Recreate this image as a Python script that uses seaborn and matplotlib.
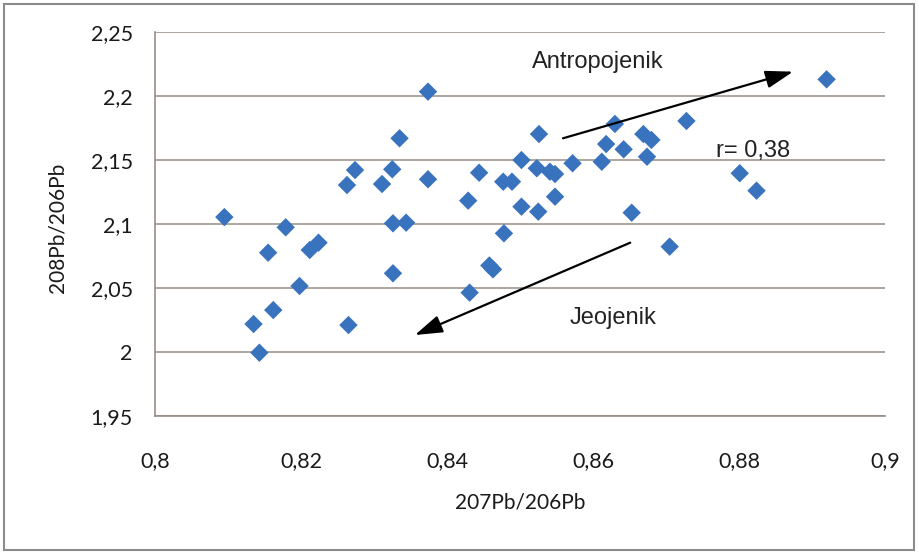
import matplotlib
matplotlib.use("Agg")
import matplotlib.pyplot as plt
import seaborn as sns
import pandas as pd
from matplotlib.patches import Rectangle

# ---- data ----
pb207_206 = [0.8095, 0.8179, 0.8155, 0.8212, 0.8224, 0.8198, 0.8162, 0.8135, 0.8143,
             0.8265, 0.8326, 0.8344, 0.8326, 0.8374, 0.8335, 0.8274, 0.8263, 0.8325,
             0.8311, 0.8374, 0.8444, 0.8429, 0.8477, 0.8489, 0.8502, 0.8502, 0.8478,
             0.8458, 0.8463, 0.8431, 0.8526, 0.8630, 0.8728, 0.8669, 0.8680, 0.8618,
             0.8642, 0.8674, 0.8612, 0.8572, 0.8523, 0.8541, 0.8548, 0.8548, 0.8525,
             0.8653, 0.8705, 0.8920, 0.8801, 0.8824]
pb208_206 = [2.1053, 2.0973, 2.0775, 2.0796, 2.0853, 2.0515, 2.0327, 2.0218, 1.9994,
             2.0210, 2.1004, 2.1009, 2.0614, 2.2032, 2.1668, 2.1420, 2.1303, 2.1426,
             2.1311, 2.1348, 2.1399, 2.1181, 2.1329, 2.1329, 2.1498, 2.1134, 2.0926,
             2.0675, 2.0645, 2.0463, 2.1701, 2.1780, 2.1803, 2.1701, 2.1655, 2.1623,
             2.1582, 2.1524, 2.1485, 2.1473, 2.1434, 2.1407, 2.1389, 2.1212, 2.1095,
             2.1087, 2.0822, 2.2128, 2.1395, 2.1259]
x_ticks = [0.80, 0.82, 0.84, 0.86, 0.88, 0.90]
x_tick_labels = ["0,8", "0,82", "0,84", "0,86", "0,88", "0,9"]
y_ticks = [1.95, 2.00, 2.05, 2.10, 2.15, 2.20, 2.25]
y_tick_labels = ["1,95", "2", "2,05", "2,1", "2,15", "2,2", "2,25"]
x_label = "207Pb/206Pb"
y_label = "208Pb/206Pb"
r_text = "r= 0,38"
anthro_text = "Antropojenik"
geo_text = "Jeojenik"

df = pd.DataFrame({"x": pb207_206, "y": pb208_206})

sns.set_theme(style="white")
plt.rcParams["font.family"] = ["Lato", "DejaVu Sans"]

fig = plt.figure(figsize=(9.19, 5.54), dpi=100)
ax = fig.add_axes([155 / 919, 1 - 416 / 554, 730 / 919, 384.3 / 554])

grid_c = "#978d86"
for yv in y_ticks:
    ax.axhline(yv, color=grid_c, lw=1.1, zorder=1)

sns.scatterplot(data=df, x="x", y="y", marker="D", s=88, color="#3a73bd",
                edgecolor="none", ax=ax, zorder=3)

ax.set_xlim(0.8, 0.9)
ax.set_ylim(1.95, 2.25)
ax.set_xticks(x_ticks)
ax.set_xticklabels(x_tick_labels)
ax.set_yticks(y_ticks)
ax.set_yticklabels(y_tick_labels)
ax.tick_params(axis="x", length=0, pad=25, labelsize=15.5, labelcolor="#1a1a1a")
ax.tick_params(axis="y", length=0, pad=16, labelsize=15.5, labelcolor="#1a1a1a")

for side in ["top", "right"]:
    ax.spines[side].set_visible(False)
for side in ["left", "bottom"]:
    ax.spines[side].set_color(grid_c)
    ax.spines[side].set_linewidth(1.2)

ax.set_xlabel(x_label, fontsize=15, color="#1a1a1a", va="center")
ax.xaxis.set_label_coords(0.5, -0.226)
ax.set_ylabel(y_label, fontsize=15, color="#1a1a1a", va="center")
ax.yaxis.set_label_coords(-0.134, 0.489)

ann_font = ["Liberation Sans", "DejaVu Sans"]
arrow_style = "-|>,head_length=1.4,head_width=0.45"
ax.annotate("", xy=(0.8874, 2.2188), xytext=(0.8559, 2.1668),
            arrowprops=dict(arrowstyle=arrow_style, color="black", lw=1.6,
                            shrinkA=0, shrinkB=0), zorder=4)
ax.annotate("", xy=(0.8356, 2.0132), xytext=(0.8651, 2.0853),
            arrowprops=dict(arrowstyle=arrow_style, color="black", lw=1.6,
                            shrinkA=0, shrinkB=0), zorder=4)
ax.text(0.8607, 2.2263, anthro_text, ha="center", va="center", fontsize=17,
        family=ann_font, color="#222222")
ax.text(0.8627, 2.0265, geo_text, ha="center", va="center", fontsize=17,
        family=ann_font, color="#222222")
ax.text(0.8819, 2.1571, r_text, ha="center", va="center", fontsize=17,
        family=ann_font, color="#222222")

fig.patches.append(Rectangle((4 / 919, 4 / 554), 910 / 919, 546 / 554,
                             transform=fig.transFigure, fill=False,
                             edgecolor="#8c8c8c", lw=1.5))

fig.savefig("out.png", dpi=100)
